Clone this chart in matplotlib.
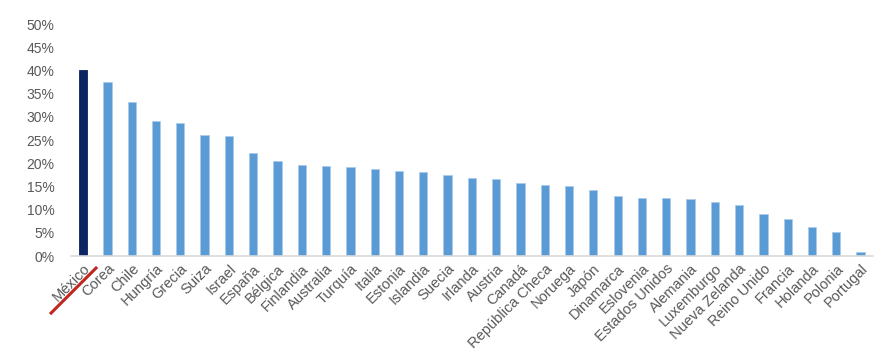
import matplotlib.pyplot as plt
from matplotlib.lines import Line2D
from matplotlib.ticker import PercentFormatter
import matplotlib.transforms as mtransforms

plt.rcParams['font.family'] = ['Liberation Sans', 'DejaVu Sans']

paises = ['México', 'Corea', 'Chile', 'Hungría', 'Grecia', 'Suiza', 'Israel',
          'España', 'Bélgica', 'Finlandia', 'Australia', 'Turquía', 'Italia',
          'Estonia', 'Islandia', 'Suecia', 'Irlanda', 'Austria', 'Canadá',
          'República Checa', 'Noruega', 'Japón', 'Dinamarca', 'Eslovenia',
          'Estados Unidos', 'Alemania', 'Luxemburgo', 'Nueva Zelanda',
          'Reino Unido', 'Francia', 'Holanda', 'Polonia', 'Portugal']
valores = [40.1, 37.5, 33.2, 29.1, 28.7, 26.1, 25.9, 22.2, 20.5, 19.6, 19.4,
           19.2, 18.8, 18.4, 18.1, 17.5, 16.9, 16.6, 15.8, 15.3, 15.1, 14.2,
           12.9, 12.5, 12.5, 12.3, 11.6, 11.0, 9.1, 8.0, 6.2, 5.1, 0.8]

azul = '#5B9BD5'
marino = '#0B2462'
colores = [marino] + [azul] * (len(paises) - 1)
bordes = [marino] + ['#A9CBEA'] * (len(paises) - 1)

fig = plt.figure(figsize=(8.83, 3.64), dpi=100)
ax = fig.add_axes([0.0804, 0.2967, 0.908, 0.637])

x = list(range(len(paises)))
ax.bar(x, valores, width=0.34, color=colores, edgecolor=bordes, linewidth=0.6, zorder=2)

ax.set_xlim(-0.5, len(paises) - 0.5)
ax.set_ylim(0, 50)
ax.set_yticks(range(0, 51, 5))
ax.yaxis.set_major_formatter(PercentFormatter(decimals=0))
ax.set_xticks(x)
ax.set_xticklabels(paises, rotation=45, ha='right', rotation_mode='anchor')

for s in ['top', 'right', 'left']:
    ax.spines[s].set_visible(False)
ax.spines['bottom'].set_color('#D9D9D9')
ax.spines['bottom'].set_linewidth(1.2)
ax.tick_params(axis='both', length=0, labelcolor='#595959')
ax.tick_params(axis='y', labelsize=10, pad=12)
ax.tick_params(axis='x', labelsize=10.5, pad=4)

# subrayado rojo bajo México
trans = mtransforms.blended_transform_factory(ax.transData, ax.transAxes)
ax.add_line(Line2D([-1.32, 0.53], [-0.246, -0.052], transform=trans,
                   color='#C0261C', linewidth=2.2, clip_on=False, zorder=5))

fig.savefig('out.png', dpi=100)
